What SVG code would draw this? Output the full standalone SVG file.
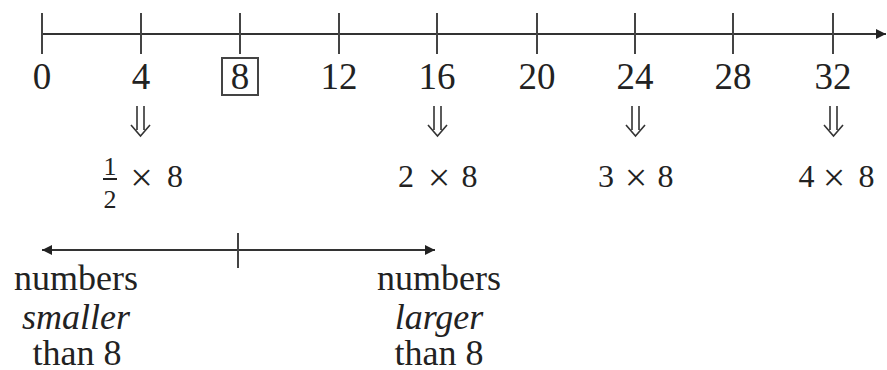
<svg xmlns="http://www.w3.org/2000/svg" width="887" height="370" viewBox="0 0 887 370">
<defs>
<style>
.ln{stroke:#333;stroke-width:2;fill:none}
.tk{stroke:#444;stroke-width:2}
.num{font-family:"Liberation Serif",serif;font-size:37px;fill:#222;text-anchor:middle}
.dg{font-family:"Liberation Serif",serif;font-size:32px;fill:#222;text-anchor:middle}
.tm{font-family:"Liberation Serif",serif;font-size:40px;fill:#222;text-anchor:middle}
.fr{font-family:"Liberation Serif",serif;font-size:26px;fill:#222;text-anchor:middle}
.lb{font-family:"Liberation Serif",serif;font-size:36px;fill:#222;text-anchor:middle}
.it{font-style:italic}
.da{stroke:#333;stroke-width:1.6;fill:none}
</style>
<marker id="ah" viewBox="0 0 10 10" refX="10" refY="5" markerWidth="15" markerHeight="10" markerUnits="userSpaceOnUse" orient="auto-start-reverse">
<path d="M0,0 L10,5 L0,10 Z" fill="#222"/>
</marker>
</defs>
<rect width="887" height="370" fill="#fff"/>
<g id="connectors">
<line class="ln" x1="42" y1="34" x2="886" y2="34" marker-end="url(#ah)"/>
<line class="ln" x1="42" y1="250" x2="435" y2="250" marker-start="url(#ah)" marker-end="url(#ah)"/>
<line class="tk" x1="238" y1="233" x2="238" y2="268"/>
<path class="da" d="M137,106V130M144,106V130M131,125L140.5,136L150,125"/>
<path class="da" d="M434,106V130M441,106V130M428,125L437.5,136L447,125"/>
<path class="da" d="M632,106V130M639,106V130M626,125L635.5,136L645,125"/>
<path class="da" d="M830,106V130M837,106V130M824,125L833.5,136L843,125"/>
</g>
<g id="ticks">
<line class="tk" x1="42" y1="13" x2="42" y2="54"/>
<line class="tk" x1="141" y1="13" x2="141" y2="54"/>
<line class="tk" x1="240" y1="13" x2="240" y2="54"/>
<line class="tk" x1="339" y1="13" x2="339" y2="54"/>
<line class="tk" x1="437" y1="13" x2="437" y2="54"/>
<line class="tk" x1="537" y1="13" x2="537" y2="54"/>
<line class="tk" x1="635" y1="13" x2="635" y2="54"/>
<line class="tk" x1="733" y1="13" x2="733" y2="54"/>
<line class="tk" x1="833" y1="13" x2="833" y2="54"/>
</g>
<g id="labels">
<text class="num" x="42" y="89">0</text>
<text class="num" x="141" y="89">4</text>
<g id="box8">
<rect x="222" y="58" width="36" height="37" fill="none" stroke="#444" stroke-width="2"/>
<text class="num" x="240" y="89">8</text>
</g>
<text class="num" x="339" y="89">12</text>
<text class="num" x="437" y="89">16</text>
<text class="num" x="537" y="89">20</text>
<text class="num" x="635" y="89">24</text>
<text class="num" x="733" y="89">28</text>
<text class="num" x="833" y="89">32</text>
</g>
<g id="expr-half">
<text class="fr" x="110" y="175">1</text>
<line x1="103" y1="179" x2="117" y2="179" stroke="#222" stroke-width="2"/>
<text class="fr" x="110" y="208">2</text>
<text class="tm" x="141.5" y="191">×</text>
<text class="dg" x="175" y="187">8</text>
</g>
<g id="expr-2">
<text class="dg" x="406" y="187">2</text>
<text class="tm" x="439" y="191">×</text>
<text class="dg" x="469.5" y="187">8</text>
</g>
<g id="expr-3">
<text class="dg" x="606" y="187">3</text>
<text class="tm" x="636" y="191">×</text>
<text class="dg" x="665.5" y="187">8</text>
</g>
<g id="expr-4">
<text class="dg" x="806.5" y="187">4</text>
<text class="tm" x="834" y="191">×</text>
<text class="dg" x="866.5" y="187">8</text>
</g>
<g id="smaller">
<text class="lb" x="76" y="290">numbers</text>
<text class="lb it" x="76" y="329">smaller</text>
<text class="lb" x="77" y="365">than 8</text>
</g>
<g id="larger">
<text class="lb" x="439" y="290">numbers</text>
<text class="lb it" x="439" y="329">larger</text>
<text class="lb" x="439" y="365">than 8</text>
</g>
</svg>
